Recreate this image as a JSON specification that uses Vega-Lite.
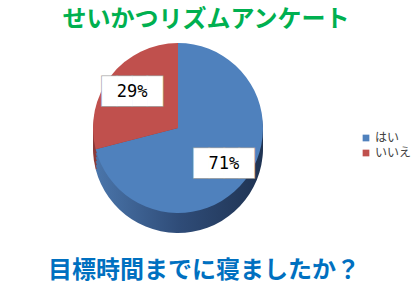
{
  "$schema": "https://vega.github.io/schema/vega-lite/v6.json",
  "padding": {"left": 0, "top": 8, "right": 0, "bottom": 0},
  "background": "white",
  "config": {"view": {"stroke": null}, "font": "Noto Sans CJK JP"},
  "title": {"text": "せいかつリズムアンケート", "fontSize": 24, "fontWeight": "bold", "color": "#00b050", "font": "Noto Sans CJK JP", "anchor": "middle", "offset": 8},
  "datasets": {
    "survey": [
      {"answer": "はい", "percent": 71, "label": "71%", "box": "████", "order": 1},
      {"answer": "いいえ", "percent": 29, "label": "29%", "box": "████", "order": 2}
    ]
  },
  "vconcat": [
    {
      "width": 356,
      "height": 176,
      "title": {"text": "目標時間までに寝ましたか？", "orient": "bottom", "fontSize": 24, "fontWeight": "bold", "color": "#0070c0", "font": "Noto Sans CJK JP", "anchor": "middle", "dx": 26, "offset": 26},
      "data": {"name": "survey"},
      "encoding": {
        "theta": {"field": "percent", "type": "quantitative", "stack": true},
        "order": {"field": "order", "type": "quantitative"}
      },
      "layer": [
        {"mark": {"type": "arc", "radius": 85, "yOffset": 20}, "encoding": {"fill": {"condition": {"test": "datum.answer === 'はい'", "value": {"gradient": "linear", "x1": 0, "x2": 1, "y1": 0, "y2": 0, "stops": [{"offset": 0, "color": "#4a75aa"}, {"offset": 0.5, "color": "#2f4c78"}, {"offset": 1, "color": "#1f3352"}]}}, "value": "#8c3a38"}}},
        {"mark": {"type": "arc", "radius": 85, "yOffset": 16}, "encoding": {"fill": {"condition": {"test": "datum.answer === 'はい'", "value": {"gradient": "linear", "x1": 0, "x2": 1, "y1": 0, "y2": 0, "stops": [{"offset": 0, "color": "#4a75aa"}, {"offset": 0.5, "color": "#2f4c78"}, {"offset": 1, "color": "#1f3352"}]}}, "value": "#8c3a38"}}},
        {"mark": {"type": "arc", "radius": 85, "yOffset": 12}, "encoding": {"fill": {"condition": {"test": "datum.answer === 'はい'", "value": {"gradient": "linear", "x1": 0, "x2": 1, "y1": 0, "y2": 0, "stops": [{"offset": 0, "color": "#4a75aa"}, {"offset": 0.5, "color": "#2f4c78"}, {"offset": 1, "color": "#1f3352"}]}}, "value": "#8c3a38"}}},
        {"mark": {"type": "arc", "radius": 85, "yOffset": 8}, "encoding": {"fill": {"condition": {"test": "datum.answer === 'はい'", "value": {"gradient": "linear", "x1": 0, "x2": 1, "y1": 0, "y2": 0, "stops": [{"offset": 0, "color": "#4a75aa"}, {"offset": 0.5, "color": "#2f4c78"}, {"offset": 1, "color": "#1f3352"}]}}, "value": "#8c3a38"}}},
        {"mark": {"type": "arc", "radius": 85, "yOffset": 4}, "encoding": {"fill": {"condition": {"test": "datum.answer === 'はい'", "value": {"gradient": "linear", "x1": 0, "x2": 1, "y1": 0, "y2": 0, "stops": [{"offset": 0, "color": "#4a75aa"}, {"offset": 0.5, "color": "#2f4c78"}, {"offset": 1, "color": "#1f3352"}]}}, "value": "#8c3a38"}}},
        {
          "mark": {"type": "arc", "radius": 85},
          "encoding": {
            "color": {
              "field": "answer", "type": "nominal",
              "scale": {"domain": ["はい", "いいえ"], "range": ["#4f81bd", "#c0504d"]},
              "legend": {"orient": "none", "legendX": 360, "legendY": 92, "title": null, "symbolType": "square", "symbolSize": 45, "symbolStrokeWidth": 0, "labelFontSize": 12, "labelFont": "Noto Sans CJK JP", "labelColor": "#404040", "labelOffset": 3, "rowPadding": 3}
            }
          }
        },
        {"mark": {"type": "text", "radius": 58, "font": "DejaVu Sans Mono", "fontSize": 25, "fill": "#a6a6a6", "stroke": "#a6a6a6", "strokeWidth": 1.5}, "encoding": {"text": {"field": "box"}}},
        {"mark": {"type": "text", "radius": 58, "font": "DejaVu Sans Mono", "fontSize": 25, "fill": "white"}, "encoding": {"text": {"field": "box"}}},
        {"mark": {"type": "text", "radius": 58, "font": "DejaVu Sans Mono", "fontSize": 17, "fill": "black"}, "encoding": {"text": {"field": "label"}}}
      ]
    }
  ]
}
